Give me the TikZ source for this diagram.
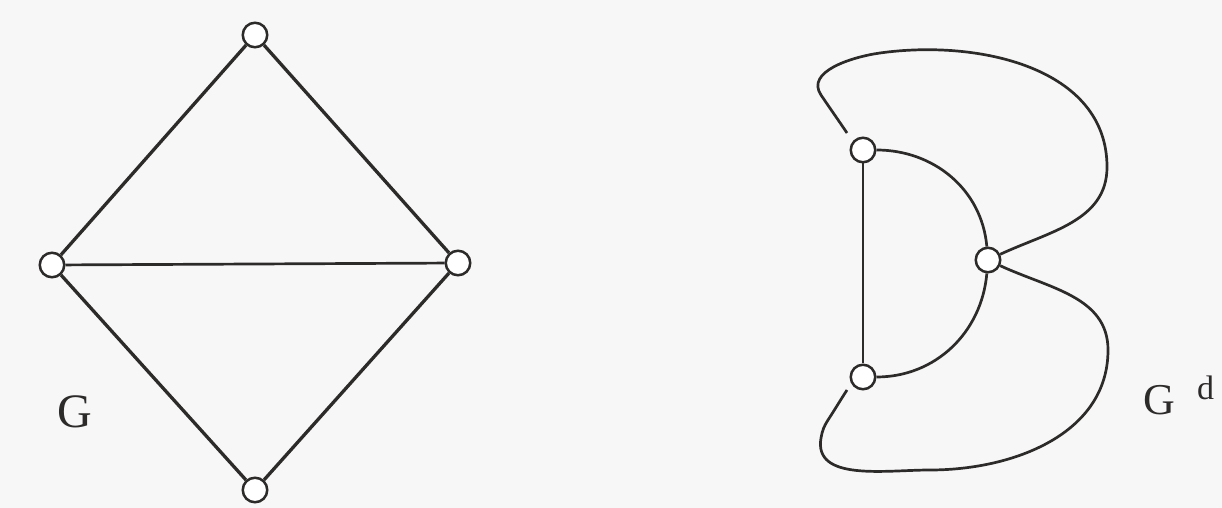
\documentclass[tikz,border=0pt]{standalone}
\usepackage{fontspec}
\setmainfont{Liberation Serif}
\definecolor{bg}{RGB}{248,247,247}
\definecolor{ink}{RGB}{45,42,42}
\begin{document}
\begin{tikzpicture}[x=1pt,y=1pt,
  vtx/.style={circle,draw=ink,fill=white,line width=2.5pt,minimum size=24.5pt,inner sep=0pt},
  edgeA/.style={draw=ink,line width=3.3pt},
  edgeB/.style={draw=ink,line width=2.7pt},
  lbl/.style={text=ink,inner sep=0pt,anchor=base west}]
\fill[bg] (0,0) rectangle (1222,508);
\useasboundingbox (0,0) rectangle (1222,508);
% graph G
\node[vtx] (A) at (255,473) {};
\node[vtx] (B) at (52,243) {};
\node[vtx] (C) at (458,245) {};
\node[vtx] (D) at (255,18) {};
\draw[edgeA] (A) -- (B);
\draw[edgeA] (A) -- (C);
\draw[edgeB] (B) -- (C);
\draw[edgeA] (B) -- (D);
\draw[edgeA] (C) -- (D);
\node[lbl,font=\fontsize{48}{56}\selectfont] (gl) at (57,80) {G};
% dual graph
\node[vtx] (P) at (863,358) {};
\node[vtx] (Q) at (988,248) {};
\node[vtx] (R) at (863,131) {};
\coordinate (t0) at (847,375);
\coordinate (b0) at (847,118);
\draw[edgeB] (P) -- (R);
\draw[edgeB] (P) to[out=0,in=95] (Q);
\draw[edgeB] (Q) to[out=-95,in=0] (R);
\draw[edgeB] (t0) to[out=124,in=-56] (821,413) to[out=124,in=188] (880,455)
  to[out=8,in=90] (1107,341) to[out=-90,in=25] (Q);
\draw[edgeB] (Q) to[out=-25,in=90] (1108,158) to[out=-90,in=0] (930,38)
  to[out=180,in=-100] (821,70) to[out=80,in=-123] (828,88) to[out=57,in=-123] (b0);
\node[lbl,font=\fontsize{44}{52}\selectfont] (gr) at (1143,93) {G};
\node[lbl,font=\fontsize{34}{40}\selectfont] (gd) at (1197,108) {d};
\end{tikzpicture}
\end{document}
